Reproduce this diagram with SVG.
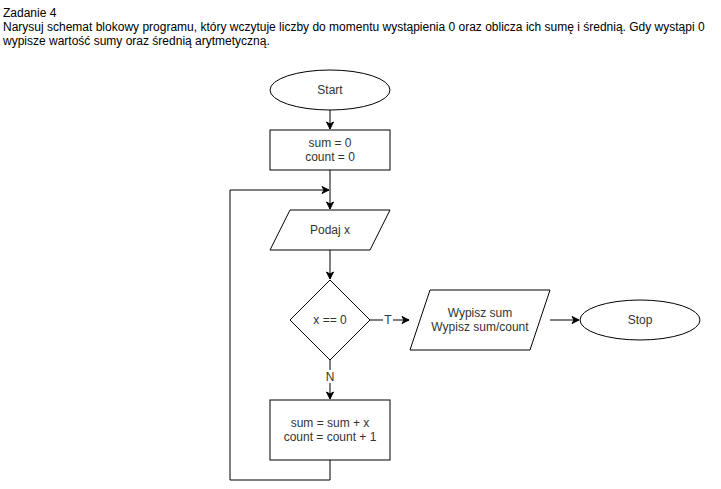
<svg xmlns="http://www.w3.org/2000/svg" width="721" height="489" viewBox="0 0 721 489">
<style>
.s{fill:#fff;stroke:#000;stroke-width:1}
.t{font-family:"Liberation Sans",Arial,sans-serif;font-size:12px;fill:#333;text-anchor:middle}
.h{font-family:"Liberation Sans",Arial,sans-serif;font-size:12px;fill:#000}
.c{fill:none;stroke:#000;stroke-width:1}
</style>
<defs>
<marker id="a" markerWidth="10" markerHeight="10" refX="8" refY="5" orient="auto" markerUnits="userSpaceOnUse">
<path d="M1,1.5 L8,5 L1,8.5 L3,5 Z" fill="#000" stroke="#000" stroke-width="1"/>
</marker>
</defs>
<rect width="721" height="489" fill="#fff"/>
<g id="title">
<text class="h" x="3" y="17">Zadanie 4</text>
<text class="h" x="3" y="31">Narysuj schemat blokowy programu, który wczytuje liczby do momentu wystąpienia 0 oraz oblicza ich sumę i średnią. Gdy wystąpi 0</text>
<text class="h" x="3" y="45">wypisze wartość sumy oraz średnią arytmetyczną.</text>
</g>
<g id="connectors">
<path class="c" d="M330,110 V129" marker-end="url(#a)"/>
<path class="c" d="M330,170 V209" marker-end="url(#a)"/>
<path class="c" d="M330,250 V279" marker-end="url(#a)"/>
<path class="c" d="M370,320 H409" marker-end="url(#a)"/>
<rect x="383" y="313" width="10" height="12" fill="#fff"/>
<text class="t" x="388" y="324">T</text>
<path class="c" d="M550,320 H579" marker-end="url(#a)"/>
<path class="c" d="M330,360 V399" marker-end="url(#a)"/>
<rect x="324" y="370" width="12" height="13" fill="#fff"/>
<text class="t" x="330" y="381">N</text>
<path class="c" d="M330,460 V480 H230 V190 H329" marker-end="url(#a)"/>
</g>
<g id="start">
<ellipse class="s" cx="330" cy="90" rx="60" ry="20"/>
<text class="t" x="330" y="94">Start</text>
</g>
<g id="init">
<rect class="s" x="270" y="130" width="120" height="40"/>
<text class="t" x="330" y="147">sum = 0</text>
<text class="t" x="330" y="161">count = 0</text>
</g>
<g id="input">
<polygon class="s" points="290,210 390,210 370,250 270,250"/>
<text class="t" x="330" y="234">Podaj x</text>
</g>
<g id="decision">
<polygon class="s" points="330,280 370,320 330,360 290,320"/>
<text class="t" x="330" y="324">x == 0</text>
</g>
<g id="output">
<polygon class="s" points="430,290 550,290 530,350 410,350"/>
<text class="t" x="480" y="317">Wypisz sum</text>
<text class="t" x="480" y="331">Wypisz sum/count</text>
</g>
<g id="stop">
<ellipse class="s" cx="640" cy="320" rx="60" ry="20"/>
<text class="t" x="640" y="324">Stop</text>
</g>
<g id="update">
<rect class="s" x="270" y="400" width="120" height="60"/>
<text class="t" x="330" y="427">sum = sum + x</text>
<text class="t" x="330" y="441">count = count + 1</text>
</g>
</svg>
